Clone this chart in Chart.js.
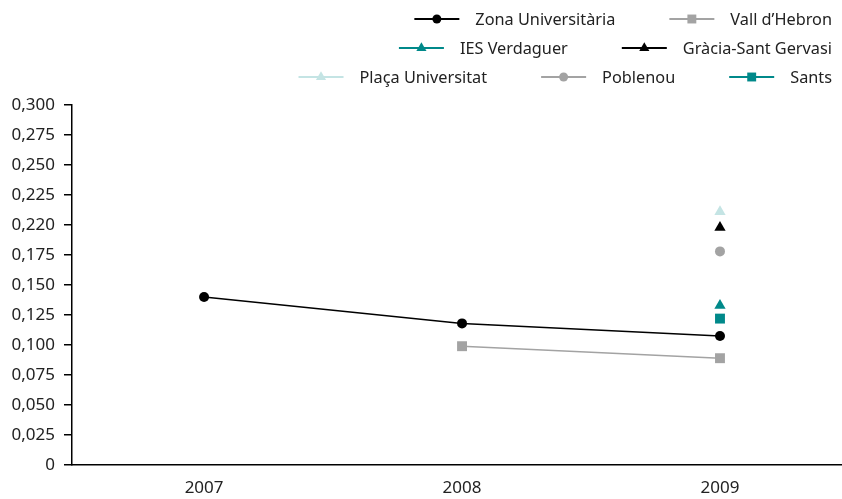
<!DOCTYPE html>
<html>
<head>
<meta charset="utf-8">
<script src="https://cdn.jsdelivr.net/npm/chart.js@4"></script>
<style>
  html, body { margin: 0; padding: 0; background: #fff; }
  #wrap { width: 842px; height: 499px; }
</style>
</head>
<body>
<div id="wrap"><canvas id="myChart" width="842" height="499"></canvas></div>
<script>
// data
var categories = ['2007', '2008', '2009'];
var zonaUniversitaria = [0.140, 0.118, 0.1075];
var vallHebron = [null, 0.099, 0.089];
var iesVerdaguer = [null, null, 0.133];
var graciaSantGervasi = [null, null, 0.198];
var placaUniversitat = [null, null, 0.211];
var poblenou = [null, null, 0.178];
var sants = [null, null, 0.122];
var yTickLabels = ['0', '0,025', '0,050', '0,075', '0,100', '0,125', '0,150',
                   '0,175', '0,220', '0,225', '0,250', '0,275', '0,300'];

var FONT = '"Noto Sans", "Open Sans", sans-serif';
var TEXT = '#222';

function points(values) {
  var out = [];
  values.forEach(function (v, i) {
    if (v !== null) out.push({ x: Number(categories[i]), y: v });
  });
  return out;
}

function series(label, values, color, style, radius) {
  return {
    label: label,
    data: points(values),
    borderColor: color,
    backgroundColor: color,
    pointBackgroundColor: color,
    pointBorderColor: color,
    pointBorderWidth: 0,
    pointStyle: style,
    pointRadius: radius,
    pointHoverRadius: radius,
    borderWidth: 1.5,
    showLine: true
  };
}

// legend rows, right aligned like the original
var legendRows = [[0, 1], [2, 3], [4, 5, 6]];
var LINE = 45, TEXT_GAP = 16, ITEM_GAP = 54;
var legendPlugin = {
  id: 'rowLegend',
  afterDraw: function (chart) {
    var ctx = chart.ctx;
    var sets = chart.data.datasets;
    ctx.save();
    ctx.font = '16.3px ' + FONT;
    ctx.textBaseline = 'middle';
    legendRows.forEach(function (row, r) {
      var y = 19 + r * 29;
      var total = 0;
      row.forEach(function (idx, k) {
        total += LINE + TEXT_GAP + ctx.measureText(sets[idx].label).width;
        if (k > 0) total += ITEM_GAP;
      });
      var x = 832 - total;
      row.forEach(function (idx) {
        var ds = sets[idx];
        ctx.strokeStyle = ds.borderColor;
        ctx.lineWidth = 1.8;
        ctx.beginPath();
        ctx.moveTo(x, y);
        ctx.lineTo(x + LINE, y);
        ctx.stroke();
        ctx.fillStyle = ds.backgroundColor;
        Chart.helpers.drawPoint(ctx, {
          pointStyle: ds.pointStyle,
          radius: ds.pointRadius * 0.9,
          borderWidth: 0,
          rotation: 0
        }, x + LINE / 2, y);
        ctx.fillStyle = TEXT;
        ctx.textAlign = 'left';
        ctx.fillText(ds.label, x + LINE + TEXT_GAP, y + 1);
        x += LINE + TEXT_GAP + ctx.measureText(ds.label).width + ITEM_GAP;
      });
    });
    ctx.restore();
  }
};

var ctx = document.getElementById('myChart').getContext('2d');
var myChart = new Chart(ctx, {
  type: 'scatter',
  data: {
    datasets: [
      series('Zona Universitària', zonaUniversitaria, '#000000', 'circle', 5),
      series('Vall d\u2019Hebron', vallHebron, '#a3a3a3', 'rect', 7),
      series('IES Verdaguer', iesVerdaguer, '#00898a', 'triangle', 6.5),
      series('Gràcia-Sant Gervasi', graciaSantGervasi, '#000000', 'triangle', 6.5),
      series('Plaça Universitat', placaUniversitat, '#c4e4e4', 'triangle', 6.5),
      series('Poblenou', poblenou, '#a3a3a3', 'circle', 5),
      series('Sants', sants, '#00898a', 'rect', 7)
    ]
  },
  plugins: [legendPlugin],
  options: {
    responsive: false,
    animation: false,
    layout: { autoPadding: false, padding: { top: 105, right: 0, bottom: 0, left: 0 } },
    plugins: {
      legend: { display: false },
      tooltip: { enabled: false }
    },
    scales: {
      x: {
        type: 'linear',
        min: 2006.488,
        max: 2009.473,
        afterFit: function (scale) { scale.height = 34; },
        grid: { display: false, drawTicks: false, tickLength: 0 },
        border: { display: true, color: '#000', width: 1.5 },
        ticks: {
          stepSize: 1,
          includeBounds: false,
          padding: 13,
          color: TEXT,
          font: { family: FONT, size: 17 },
          callback: function (value) {
            var i = categories.indexOf(String(value));
            return i >= 0 ? categories[i] : '';
          }
        }
      },
      y: {
        min: 0,
        max: 0.3,
        afterFit: function (scale) { scale.width = 72; },
        grid: {
          display: true,
          drawOnChartArea: false,
          drawTicks: true,
          tickLength: 8,
          color: '#000',
          lineWidth: 1.5
        },
        border: { display: true, color: '#000', width: 1.5 },
        ticks: {
          stepSize: 0.025,
          padding: 9,
          color: TEXT,
          font: { family: FONT, size: 17 },
          callback: function (value, index) { return yTickLabels[index]; }
        }
      }
    }
  }
});
</script>
</body>
</html>
